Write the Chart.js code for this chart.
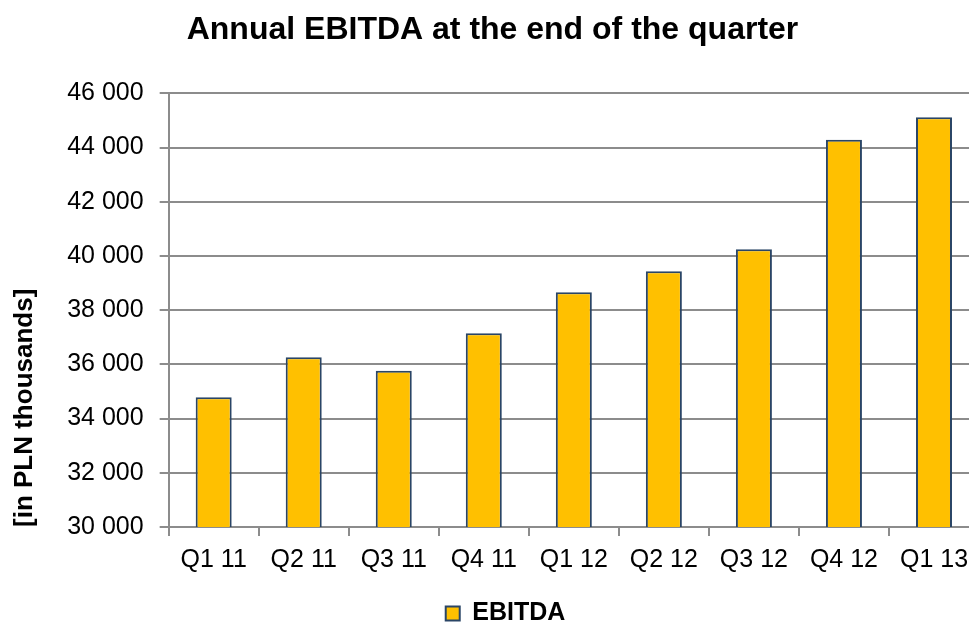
<!DOCTYPE html>
<html>
<head>
<meta charset="utf-8">
<title>Annual EBITDA at the end of the quarter</title>
<script src="https://cdn.jsdelivr.net/npm/chart.js@4.4.1/dist/chart.umd.min.js"></script>
<style>
    html, body { margin: 0; padding: 0; background: #fff; overflow: hidden; }
    /* the original chart is a little bigger than the picture, right and bottom edges are cut */
    #wrap { position: relative; width: 981px; height: 636px; }
</style>
</head>
<body>
<div id="wrap"><canvas id="ebitdaChart"></canvas></div>
<script>
// Chart data
const quarters = ['Q1 11', 'Q2 11', 'Q3 11', 'Q4 11', 'Q1 12', 'Q2 12', 'Q3 12', 'Q4 12', 'Q1 13'];
const ebitda = [34790, 36260, 35770, 37150, 38660, 39440, 40250, 44290, 45120];
const yMin = 30000;
const yMax = 46000;
const yStep = 2000;

const FONT = "'Liberation Sans', Arial, sans-serif";
const GRID = '#8c8c8c';

// "46 000" style labels
const fmt = (v) => v.toString().replace(/\B(?=(\d{3})+(?!\d))/g, ' ');

// Legend sits a bit right of the canvas centre in the original
const legendShift = {
    id: 'legendShift',
    afterLayout(chart) {
        const lg = chart.legend;
        if (!lg) return;
        lg.left += 13;
        lg.right += 13;
    }
};

const ctx = document.getElementById('ebitdaChart').getContext('2d');
new Chart(ctx, {
    type: 'bar',
    data: {
        labels: quarters,
        datasets: [{
            label: 'EBITDA',
            data: ebitda,
            backgroundColor: '#ffc000',
            borderColor: '#2a4566',
            borderWidth: 2,
            borderSkipped: false,
            barPercentage: 1,
            categoryPercentage: 0.4
        }]
    },
    options: {
        responsive: true,
        maintainAspectRatio: false,
        animation: false,
        layout: { padding: { left: 6, right: 2, top: 0, bottom: 0 } },
        plugins: {
            title: {
                display: true,
                text: 'Annual EBITDA at the end of the quarter',
                color: '#000',
                font: { family: FONT, size: 32, weight: 'bold' },
                padding: { top: 11, bottom: 44 }
            },
            legend: {
                position: 'bottom',
                labels: {
                    color: '#000',
                    font: { family: FONT, size: 25, weight: 'bold' },
                    boxWidth: 14,
                    boxHeight: 14,
                    padding: 4
                }
            },
            tooltip: { enabled: false }
        },
        scales: {
            x: {
                offset: true,
                grid: {
                    offset: true,
                    drawOnChartArea: false,
                    color: GRID,
                    lineWidth: 2,
                    tickLength: 9
                },
                border: { color: GRID, width: 2 },
                ticks: {
                    color: '#000',
                    font: { family: FONT, size: 25 },
                    padding: 9,
                    maxRotation: 0
                },
                // extra room between the category labels and the legend
                afterFit: (scale) => { scale.height += 13; }
            },
            y: {
                min: yMin,
                max: yMax,
                title: {
                    display: true,
                    text: '[in PLN thousands]',
                    align: 'start',
                    color: '#000',
                    font: { family: FONT, size: 26, weight: 'bold' },
                    padding: { top: 3, bottom: 11 }
                },
                grid: {
                    color: GRID,
                    lineWidth: 2,
                    tickLength: 9
                },
                border: { color: GRID, width: 2 },
                ticks: {
                    stepSize: yStep,
                    color: '#000',
                    font: { family: FONT, size: 25 },
                    padding: 16,
                    callback: (v) => fmt(v)
                }
            }
        }
    },
    plugins: [legendShift]
});
</script>
</body>
</html>
